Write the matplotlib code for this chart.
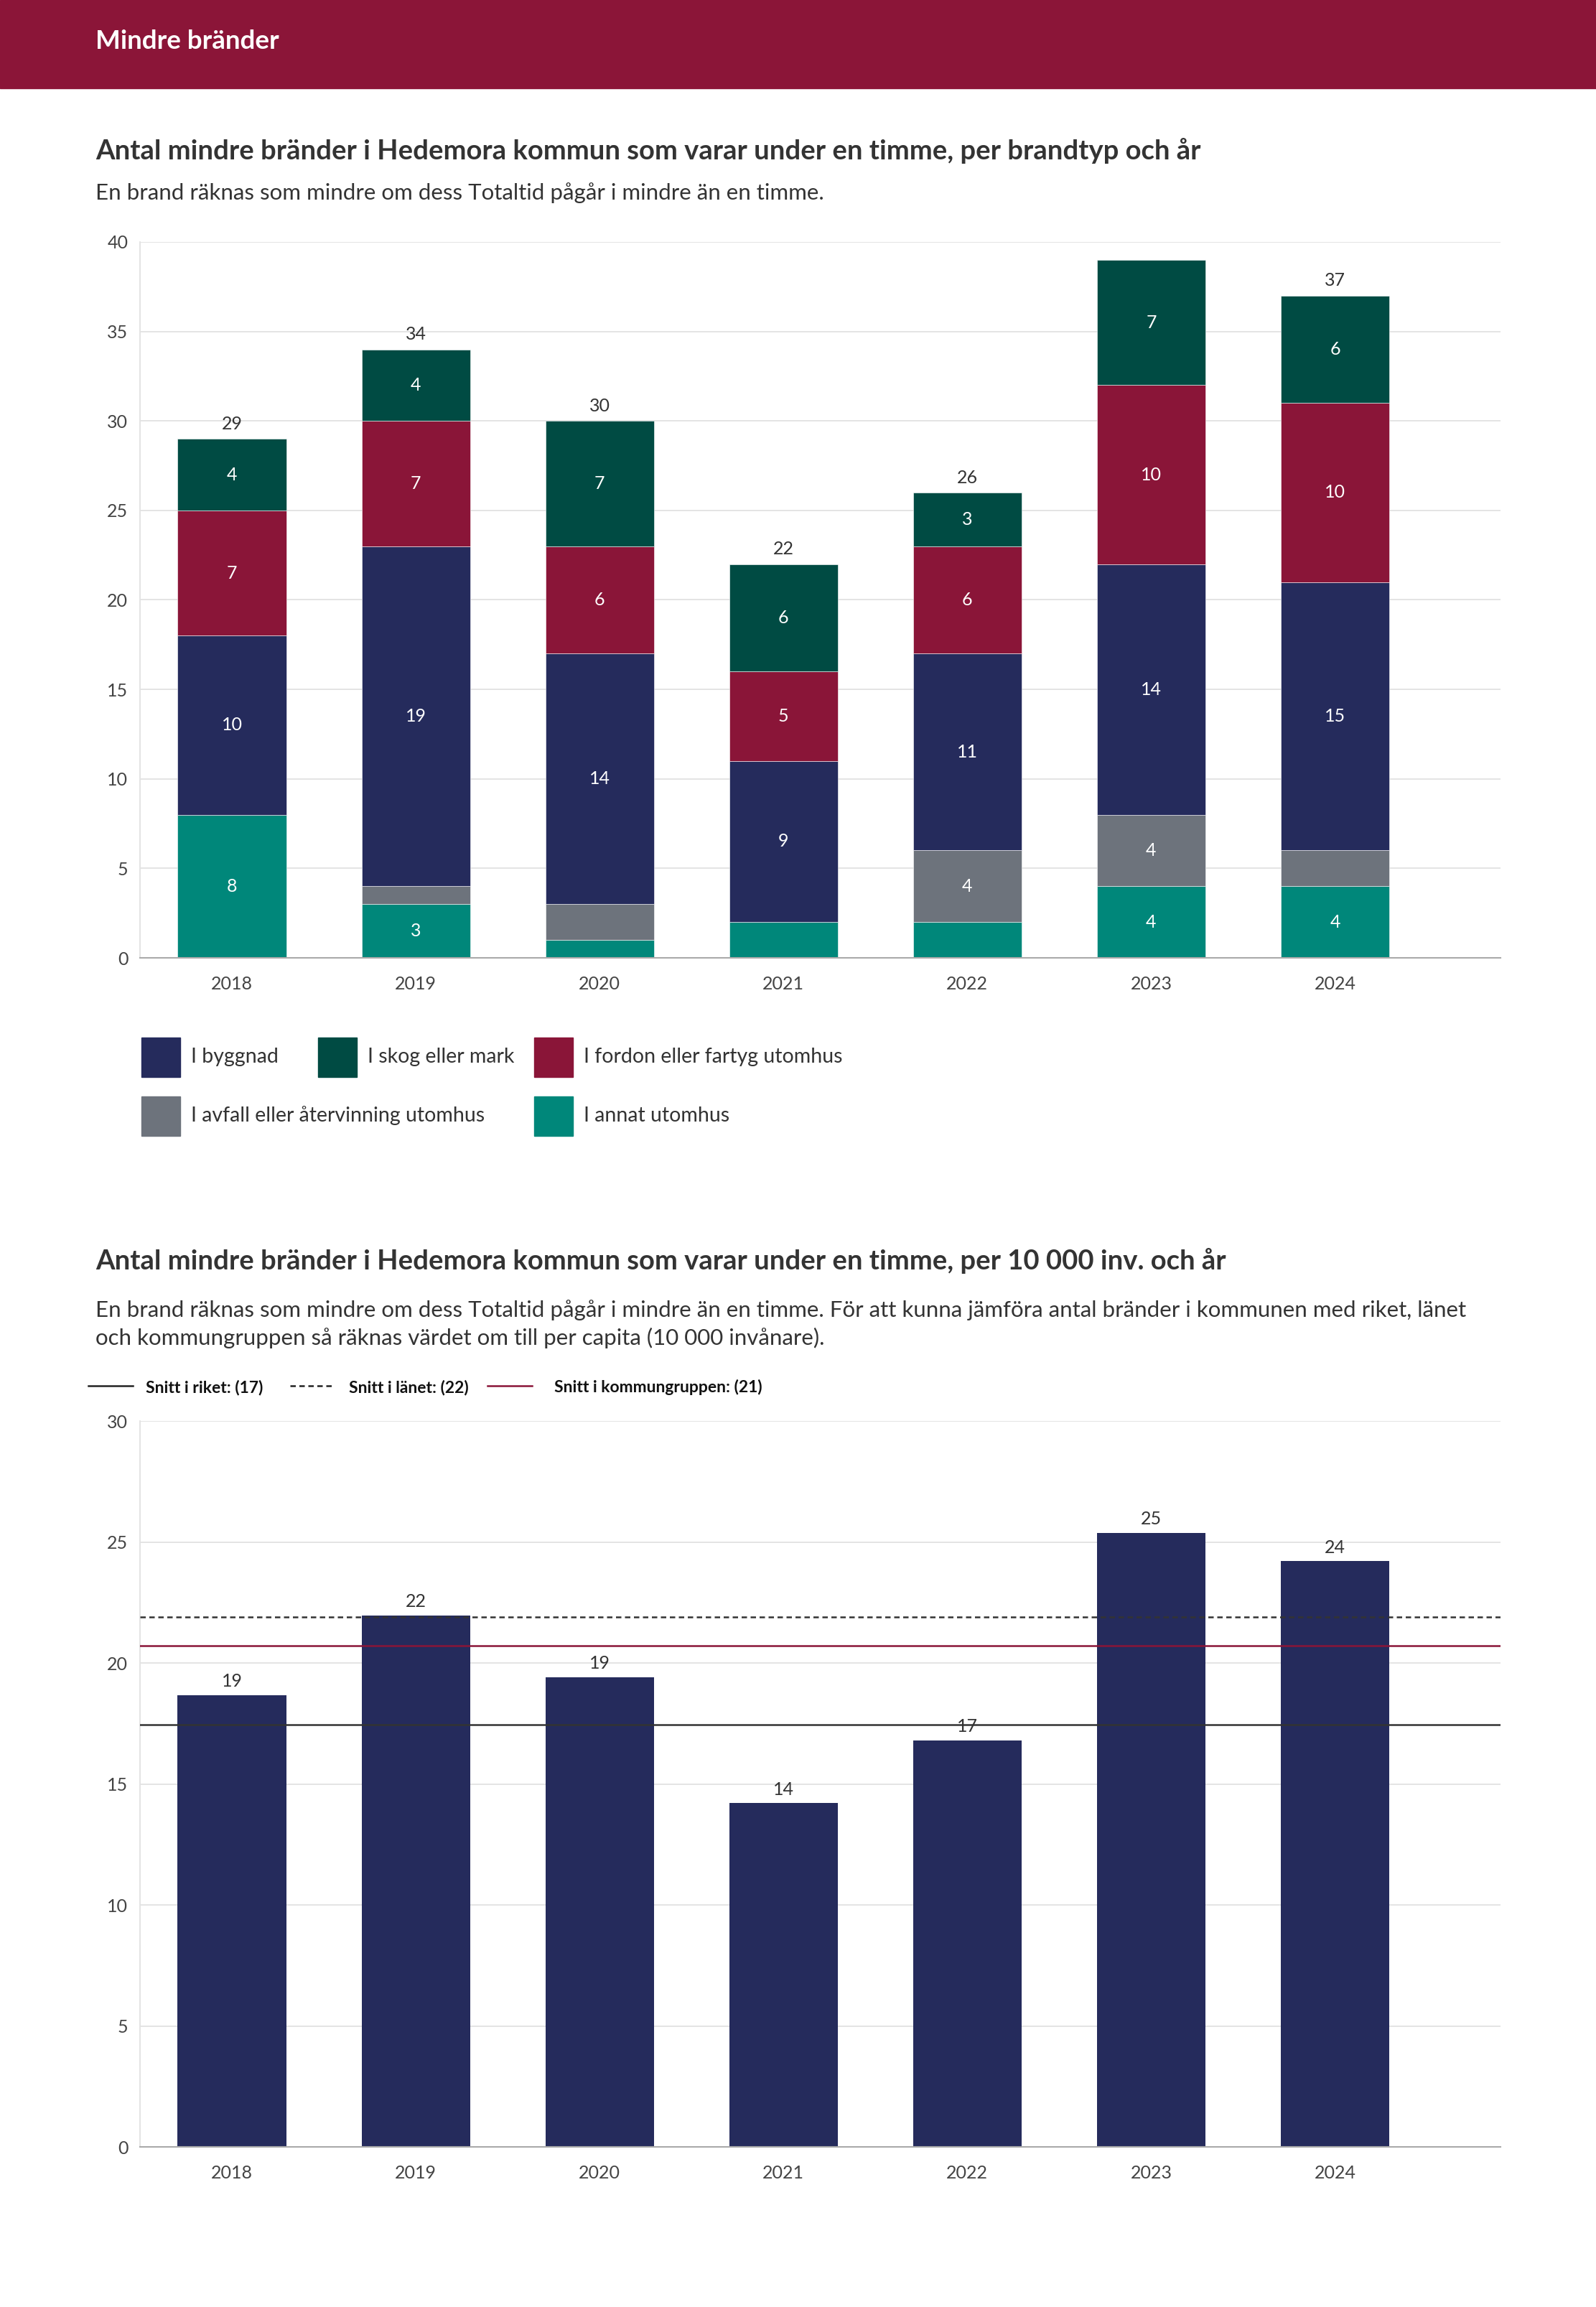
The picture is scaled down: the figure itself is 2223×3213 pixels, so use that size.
import matplotlib
matplotlib.use("Agg")
import matplotlib.pyplot as plt
from matplotlib.patches import Rectangle
from matplotlib.lines import Line2D

plt.rcParams['font.family'] = ['Lato', 'DejaVu Sans']

# --- data ---
years = ["2018", "2019", "2020", "2021", "2022", "2023", "2024"]
annat = [8, 3, 1, 2, 2, 4, 4]
avfall = [0, 1, 2, 0, 4, 4, 2]
byggnad = [10, 19, 14, 9, 11, 14, 15]
fordon = [7, 7, 6, 5, 6, 10, 10]
skog = [4, 4, 7, 6, 3, 7, 6]

per_inv = [18.66, 21.95, 19.4, 14.2, 16.8, 25.37, 24.2]
per_inv_labels = [19, 22, 19, 14, 17, 25, 24]
snitt_riket = 17.45
snitt_lanet = 21.9
snitt_kommungrupp = 20.7

# --- colours ---
C_NAVY = "#252B5C"
C_GREEN = "#004B43"
C_MAROON = "#8A1538"
C_GREY = "#6D737C"
C_TEAL = "#00877A"
C_TEXT = "#333333"
C_GRID = "#E2E2E2"

W, H = 2223, 3213
fig = plt.figure(figsize=(W / 100, H / 100), dpi=100)


def rect(left, top, right, bottom):
    return [left / W, 1 - bottom / H, (right - left) / W, (bottom - top) / H]


def ftext(x, y, s, **kw):
    fig.text(x / W, 1 - y / H, s, **kw)


# header band
fig.patches.append(Rectangle((0, 1 - 123 / H), 1, 123 / H, transform=fig.transFigure,
                             color="#8B1538", zorder=0))
ftext(133, 58, "Mindre bränder", color="white", fontsize=26.5, fontweight="bold", va="center")

# ---------- chart 1 ----------
ftext(133, 210, "Antal mindre bränder i Hedemora kommun som varar under en timme, per brandtyp och år",
      color=C_TEXT, fontsize=27.5, fontweight="bold", va="center")
ftext(133, 269, "En brand räknas som mindre om dess Totaltid pågår i mindre än en timme.",
      color=C_TEXT, fontsize=22.5, va="center")


def style_axes(ax, ymax, step):
    ax.set_xlim(-0.5, 6.9)
    ax.set_ylim(0, ymax)
    ax.set_yticks(range(0, ymax + 1, step))
    ax.yaxis.grid(True, color=C_GRID, lw=1.3)
    ax.set_axisbelow(True)
    for s in ["top", "right"]:
        ax.spines[s].set_visible(False)
    ax.spines["left"].set_color(C_GRID)
    ax.spines["left"].set_linewidth(1.3)
    ax.spines["bottom"].set_color("#AAAAAA")
    ax.spines["bottom"].set_linewidth(1.5)
    ax.tick_params(axis="both", length=0, labelsize=18, labelcolor="#444444")
    ax.tick_params(axis="y", pad=12)
    ax.tick_params(axis="x", pad=18)


ax1 = fig.add_axes(rect(195, 337, 2090, 1334))
x = range(len(years))
series = [
    ("I annat utomhus", annat, C_TEAL),
    ("I avfall eller återvinning utomhus", avfall, C_GREY),
    ("I byggnad", byggnad, C_NAVY),
    ("I fordon eller fartyg utomhus", fordon, C_MAROON),
    ("I skog eller mark", skog, C_GREEN),
]
bottom = [0] * len(years)
for name, vals, col in series:
    ax1.bar(x, vals, bottom=bottom, width=0.59, color=col, edgecolor="white", linewidth=0.4)
    for i, v in enumerate(vals):
        if v >= 3:
            ax1.text(i, bottom[i] + v / 2, str(v), ha="center", va="center",
                     color="white", fontsize=18)
    bottom = [b + v for b, v in zip(bottom, vals)]
for i, t in enumerate(bottom):
    if t <= 38:
        ax1.annotate(str(t), (i, t), xytext=(0, 15), textcoords="offset points",
                     ha="center", va="center", color=C_TEXT, fontsize=18)
style_axes(ax1, 40, 5)
ax1.set_xticks(list(x))
ax1.set_xticklabels(years)

# legend 1 (hand placed, irregular layout)
legend_items = [
    (197, 1445, C_NAVY, "I byggnad"),
    (443, 1445, C_GREEN, "I skog eller mark"),
    (744, 1445, C_MAROON, "I fordon eller fartyg utomhus"),
    (197, 1527, C_GREY, "I avfall eller återvinning utomhus"),
    (744, 1527, C_TEAL, "I annat utomhus"),
]
for lx, ly, col, lab in legend_items:
    fig.patches.append(Rectangle((lx / W, 1 - (ly + 55) / H), 54 / W, 55 / H,
                                 transform=fig.transFigure, color=col))
    ftext(lx + 69, ly + 27, lab, color=C_TEXT, fontsize=20.5, va="center")

# ---------- chart 2 ----------
ftext(133, 1756, "Antal mindre bränder i Hedemora kommun som varar under en timme, per 10 000 inv. och år",
      color=C_TEXT, fontsize=27.5, fontweight="bold", va="center")
ftext(133, 1844,
      "En brand räknas som mindre om dess Totaltid pågår i mindre än en timme. För att kunna jämföra antal bränder i kommunen med riket, länet\n"
      "och kommungruppen så räknas värdet om till per capita (10 000 invånare).",
      color=C_TEXT, fontsize=22.5, va="center", linespacing=1.4)

leg2 = [
    (123, 203, "-", "#222222", f"Snitt i riket: ({int(snitt_riket)})"),
    (404, 486, "--", "#222222", f"Snitt i länet: ({round(snitt_lanet)})"),
    (679, 772, "-", C_MAROON, f"Snitt i kommungruppen: ({round(snitt_kommungrupp)})"),
]
for lx, tx, ls, col, lab in leg2:
    fig.add_artist(Line2D([lx / W, (lx + 62) / W], [1 - 1930 / H] * 2, transform=fig.transFigure,
                          color=col, ls=ls, lw=1.8, dashes=(3, 2) if ls == "--" else (None, None)))
    ftext(tx, 1932, lab, color="#111111", fontsize=16.5, fontweight="bold", va="center")

ax2 = fig.add_axes(rect(195, 1979, 2090, 2990))
ax2.bar(x, per_inv, width=0.59, color=C_NAVY, zorder=2)
for i, (v, lab) in enumerate(zip(per_inv, per_inv_labels)):
    ax2.annotate(str(lab), (i, v), xytext=(0, 14), textcoords="offset points",
                 ha="center", va="center", color=C_TEXT, fontsize=18)
ax2.axhline(snitt_riket, color="#333333", lw=1.8, zorder=3)
ax2.axhline(snitt_lanet, color="#333333", lw=1.8, ls="--", dashes=(3, 2), zorder=3)
ax2.axhline(snitt_kommungrupp, color=C_MAROON, lw=1.8, zorder=3)
style_axes(ax2, 30, 5)
ax2.set_xticks(list(x))
ax2.set_xticklabels(years)

fig.savefig("out.png", dpi=100, facecolor="white")
